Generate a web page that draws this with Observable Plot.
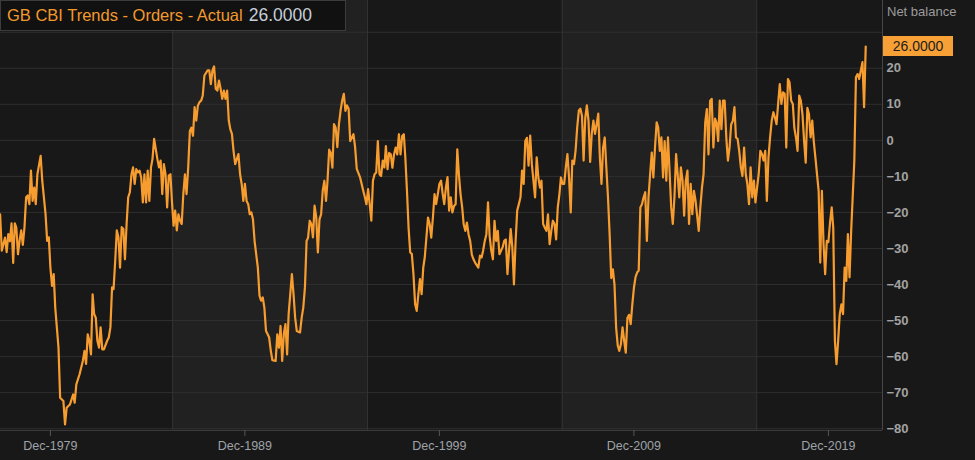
<!DOCTYPE html>
<html>
<head>
<meta charset="utf-8">
<script src="https://cdn.jsdelivr.net/npm/d3@7"></script>
<script src="https://cdn.jsdelivr.net/npm/@observablehq/plot@0.6"></script>
<style>
html, body { margin: 0; padding: 0; background: #181818; }
#wrap { position: relative; width: 975px; height: 460px; overflow: hidden; font-family: "Liberation Sans", Arial, sans-serif; }
#title { position: absolute; left: 0; top: 0; width: 346px; height: 31px; box-sizing: border-box; background: #111111; border: 1px solid #3c3c3c; padding-left: 6px; line-height: 29px; font-size: 16.5px; white-space: nowrap; }
#title .name { color: #f39a2c; }
#title .val { color: #c6ced8; margin-left: 6px; font-size: 17.5px; }
#unit { position: absolute; left: 887px; top: 4px; color: #9c9c9c; font-size: 13px; }
#badge { position: absolute; left: 883px; width: 70px; height: 20px; background: #f7a035; color: #1c1c1c; font-size: 14px; line-height: 20px; text-align: center; }
</style>
</head>
<body>
<div id="wrap"></div>
<script>
const months = [
"1977-05","1977-06","1977-08","1977-09","1977-10","1977-11","1977-12","1978-01","1978-02","1978-03","1978-04","1978-05","1978-06","1978-07","1978-08","1978-09","1978-10","1978-11","1978-12",
"1979-01","1979-02","1979-03","1979-04","1979-06","1979-07","1979-09","1979-10","1979-11","1979-12",
"1980-01","1980-02","1980-03","1980-05","1980-06","1980-08","1980-09","1980-10","1980-12",
"1981-02","1981-03","1981-04","1981-06","1981-08","1981-09","1981-10","1981-11","1981-12",
"1982-01","1982-02","1982-03","1982-04","1982-05","1982-06","1982-07","1982-08","1982-09","1982-11","1982-12",
"1983-01","1983-02","1983-03","1983-04","1983-05","1983-06","1983-07","1983-08","1983-09","1983-10","1983-11","1983-12",
"1984-01","1984-02","1984-03","1984-04","1984-05","1984-06","1984-07","1984-08","1984-09","1984-10","1984-11","1984-12",
"1985-01","1985-02","1985-03","1985-04","1985-06","1985-07","1985-08","1985-09","1985-10","1985-11","1985-12",
"1986-01","1986-02","1986-03","1986-04","1986-05","1986-06","1986-07","1986-08","1986-09","1986-10","1986-11","1986-12",
"1987-01","1987-02","1987-03","1987-04","1987-05","1987-06","1987-07","1987-08","1987-09","1987-10","1987-11",
"1988-01","1988-02","1988-03","1988-04","1988-05","1988-06","1988-07","1988-08","1988-09","1988-10","1988-11","1988-12",
"1989-01","1989-02","1989-03","1989-04","1989-05","1989-06","1989-07","1989-08","1989-09","1989-10","1989-11","1989-12",
"1990-01","1990-02","1990-03","1990-04","1990-05","1990-06","1990-08","1990-09","1990-10","1990-11","1990-12",
"1991-01","1991-02","1991-03","1991-04","1991-05","1991-07","1991-08","1991-09","1991-10","1991-11","1991-12",
"1992-01","1992-02","1992-03","1992-05","1992-06","1992-07","1992-08","1992-10","1992-11","1992-12",
"1993-01","1993-02","1993-03","1993-04","1993-05","1993-06","1993-07","1993-08","1993-09","1993-10","1993-11","1993-12",
"1994-01","1994-02","1994-03","1994-04","1994-05","1994-06","1994-07","1994-08","1994-09","1994-10","1994-11","1994-12",
"1995-01","1995-02","1995-03","1995-04","1995-05","1995-07","1995-08","1995-09","1995-11",
"1996-01","1996-02","1996-03","1996-04","1996-05","1996-06","1996-07","1996-08","1996-09","1996-10","1996-11","1996-12",
"1997-01","1997-02","1997-03","1997-04","1997-05","1997-06","1997-07","1997-08","1997-09","1997-10","1997-11","1997-12",
"1998-01","1998-02","1998-03","1998-04","1998-05","1998-06","1998-07","1998-08","1998-09","1998-10","1998-11","1998-12",
"1999-01","1999-02","1999-03","1999-04","1999-05","1999-06","1999-07","1999-08","1999-09","1999-10","1999-11","1999-12",
"2000-01","2000-02","2000-03","2000-04","2000-05","2000-06","2000-07","2000-08","2000-09","2000-10","2000-11","2000-12",
"2001-01","2001-02","2001-03","2001-04","2001-05","2001-06","2001-07","2001-08","2001-09","2001-10","2001-12",
"2002-01","2002-02","2002-03","2002-04","2002-05","2002-06","2002-07","2002-08","2002-09","2002-10","2002-11","2002-12",
"2003-01","2003-03","2003-04","2003-05","2003-06","2003-07","2003-08","2003-09","2003-10","2003-11","2003-12",
"2004-01","2004-02","2004-03","2004-04","2004-05","2004-06","2004-07","2004-08","2004-09","2004-10","2004-11","2004-12",
"2005-01","2005-02","2005-03","2005-04","2005-05","2005-06","2005-07","2005-08","2005-09","2005-10","2005-11","2005-12",
"2006-01","2006-02","2006-03","2006-04","2006-05","2006-06","2006-07","2006-08","2006-09","2006-10","2006-11","2006-12",
"2007-01","2007-02","2007-03","2007-04","2007-05","2007-06","2007-07","2007-08","2007-09","2007-10","2007-11","2007-12",
"2008-01","2008-02","2008-03","2008-04","2008-05","2008-06","2008-07","2008-08","2008-09","2008-10","2008-11","2008-12",
"2009-01","2009-02","2009-03","2009-04","2009-05","2009-06","2009-07","2009-08","2009-09","2009-10","2009-11","2009-12",
"2010-01","2010-02","2010-03","2010-04","2010-05","2010-06","2010-07","2010-08","2010-09","2010-10","2010-11","2010-12",
"2011-01","2011-02","2011-03","2011-04","2011-05","2011-06","2011-07","2011-08","2011-09","2011-10","2011-11","2011-12",
"2012-01","2012-02","2012-03","2012-04","2012-05","2012-06","2012-07","2012-08","2012-09","2012-10","2012-11","2012-12",
"2013-01","2013-02","2013-04","2013-05","2013-06","2013-07","2013-08","2013-09","2013-10","2013-11","2013-12",
"2014-01","2014-02","2014-03","2014-04","2014-05","2014-06","2014-07","2014-08","2014-09","2014-10","2014-11","2014-12",
"2015-01","2015-02","2015-03","2015-04","2015-05","2015-06","2015-07","2015-08","2015-09","2015-10","2015-11","2015-12",
"2016-01","2016-02","2016-03","2016-04","2016-05","2016-06","2016-07","2016-08","2016-09","2016-10","2016-11","2016-12",
"2017-01","2017-02","2017-03","2017-04","2017-05","2017-06","2017-07","2017-08","2017-09","2017-10","2017-11","2017-12",
"2018-01","2018-02","2018-03","2018-04","2018-05","2018-06","2018-07","2018-08","2018-09","2018-10","2018-11","2018-12",
"2019-01","2019-02","2019-03","2019-04","2019-05","2019-06","2019-07","2019-08","2019-09","2019-10","2019-11","2019-12",
"2020-01","2020-02","2020-03","2020-04","2020-05","2020-06","2020-07","2020-08","2020-09","2020-10","2020-11","2020-12",
"2021-01","2021-02","2021-03","2021-04","2021-05","2021-06","2021-07","2021-08","2021-09","2021-10","2021-11"
];
const balance = [
-20.5,-30.6,-27,-31,-26,-28,-23,-34,-23,-24.2,-31.6,-27.9,-25,-29,-24.2,-15.8,-15.3,-17.7,-8.4,
-16.8,-13.1,-17.7,-9.4,-4.3,-11.2,-20.5,-27.9,-26.9,-35.3,
-40.4,-37.1,-46.4,-57.5,-71.4,-72.3,-78.8,-74.2,-73.3,
-70.5,-72.8,-67.7,-64.9,-61.2,-58.4,-62,-53.8,-55.6,
-59.4,-42.7,-48.2,-49.2,-55.6,-57.5,-51.9,-58,-58,-55.6,-54.7,
-51.9,-40.8,-41.3,-33.4,-25,-26.9,-35.3,-24.1,-24.6,-33,-23.2,-15.8,
-14.4,-9.4,-7.5,-12.1,-8,-8.9,-8.4,-10.3,-17.2,-9.4,-17.2,-8.4,
-16.8,-7.5,-5.2,0.4,-5.2,-7.5,-5.6,-14.9,-6.6,-9.4,-18.6,
-9.8,-9.4,-16.8,-23.7,-19.5,-25,-20.5,-22.3,-23.2,-14.9,-9.4,-14.9,
-7.5,2.6,3.5,1.3,9.2,5.5,9.6,10.6,11,12.4,18,
19.4,19.4,15.6,19.4,20.5,14.3,13.8,16.6,14.3,11.5,13.8,11.5,
13.8,5.5,3.1,1.8,-2.9,-6.6,-5.2,-3.8,-9.4,-12.1,-16.8,-12.1,
-16.8,-17.7,-20.5,-20,-21.9,-28,-35.4,-43.1,-44.5,-43.6,-46.4,
-52.9,-53.8,-54.7,-58.4,-61,-61.2,-53.8,-57.5,-51.5,-61.2,-53.8,
-51,-59.4,-48.2,-37.1,-42.7,-49.2,-52.9,-53.3,-49.2,-46.4,
-40.8,-27.9,-27,-22.3,-23.2,-26.9,-18.1,-21.3,-31.1,-21.9,-20.5,-14,
-11.2,-16.8,-11.2,-2.6,-3.5,-7.6,4.5,3.5,-1.9,4.4,8.2,11,
12.9,8.2,9.7,8.8,-0.2,1.7,-1.9,-7.9,-10.2,
-14,-15.8,-17.7,-13.5,-17.7,-22.3,-11.2,-9.4,-8.9,-0.2,-9.4,-9.9,
-5.6,-7.5,-1.6,-8,-3.5,-3.9,-7.6,-3.9,-2,-3.9,1.7,-3.9,
1.2,1.7,-4.7,-14,-24.2,-31.1,-31.5,-37.1,-45.5,-47.3,-42.7,-38.5,
-42.7,-35.3,-32.5,-27,-21.4,-23.2,-27,-21.4,-14.9,-17.7,-14.9,-12.1,
-11.2,-14.9,-17.7,-13.1,-10.2,-19.5,-15.8,-20,-18.2,-17.7,-2.5,-9.4,
-14.9,-18.6,-23.3,-25.1,-22.8,-26.1,-27.9,-31.7,-33,-33.9,-35.3,
-32,-32.5,-30.6,-27.9,-26.1,-17.2,-26.5,-30.6,-33,-22.3,-27.9,-25.1,
-31.6,-29.7,-27.9,-27.5,-37.1,-30.6,-24.6,-29.7,-40,-28,-19.5,
-17.7,-15.8,-8.4,-12.1,-0.2,0.7,-7,1.3,-6.6,-11.2,-15.8,-4.7,
-10.3,-13.1,-11.2,-23.2,-24.2,-25.1,-20.5,-28.8,-25.1,-22.3,-23.2,-27.5,
-18.6,-14.9,-10.3,-12.1,-12.1,-7.5,-3.8,-10.3,-20,-5.6,-6.6,-2.9,
3.6,8.3,8.8,6.8,-5.6,6.2,9.7,5.5,-6,1.8,5.5,1.8,
4.5,7.4,-4.7,-12.1,-2,0.8,-7.5,-15.8,-26.1,-38.2,-35.8,-40,
-52,-57,-58.4,-56.5,-51.9,-55.6,-58.9,-49.3,-48.4,-51,-45.5,-40.9,
-37.9,-36.6,-36.1,-18.6,-17.7,-15.8,-14.4,-27.9,-15.8,-9.4,-3.4,-10.3,
-1.9,5.0,3.6,-2.9,0.8,-10.3,-0.2,-11.2,0.8,-8.5,-18.6,-23.2,
-15.8,-3.8,-9.4,-15.8,-7.5,-11.2,-20.9,-11.2,-8.4,-23.2,-12.1,-20.5,
-14,-16.8,-25.1,-18.6,-13.1,-9.4,5.0,8.7,-3.9,11,11.5,
-2,6,5,-0.2,11,3.1,11,11,0.7,-5.6,-2,4.4,
5.4,9.2,0.8,0.4,-2.9,-7.5,-9.9,-2,-9.4,-12.1,-17.7,-7.5,
-15.8,-11.2,-17.2,-13.1,-9.4,-2.9,-3.8,-5.6,-2.9,-16.8,-4.7,0.8,
5.5,7.8,6.4,4.5,10.1,15.6,10.1,13.3,12.9,-2,17,16.1,
11,10.1,3.5,0.8,-2.9,12.4,11,7.3,-0.2,-6.2,9,7.3,
0.8,5.5,-0.2,-4.8,-9.4,-14,-33.9,-14,-28.8,-37.1,-27.9,-28.2,
-22.8,-18.6,-24.2,-55.6,-62.1,-55.6,-48.2,-45.5,-48.2,-35.3,-39,-26,
-38,-25,-15.8,-5.6,17.5,18.4,17,19.4,21.7,9.2,26
];
const bandStarts = ["1986-03-15", "2006-03-25"];
const bandEnds = ["1996-03-20", "2016-03-25"];
const bandEdges = ["1986-03-15", "1996-03-20", "2006-03-25", "2016-03-25"];
const xTickLabels = ["1979-12", "1989-12", "1999-12", "2009-12", "2019-12"];
const yTicks = [-80, -70, -60, -50, -40, -30, -20, -10, 0, 10, 20];
const gridValues = [-80, -70, -60, -50, -40, -30, -20, -10, 0, 10, 20, 30];
const seriesName = "GB CBI Trends - Orders - Actual";
const unitLabel = "Net balance";

const pm = d3.utcParse("%Y-%m");
const pd = d3.utcParse("%Y-%m-%d");
const data = months.map((m, i) => ({date: pm(m), value: balance[i]}));
const bands = bandStarts.map((s, i) => ({start: pd(s), end: pd(bandEnds[i])}));
const edges = bandEdges.map(pd);
const xTicks = xTickLabels.map(pm);
const last = data[data.length - 1];
const xDomain = [pd("1977-05-08"), pd("2022-09-12")];
const yDomain = [-80.5, 38.8];

const chart = Plot.plot({
  width: 975,
  height: 460,
  marginLeft: 0,
  marginRight: 93,
  marginTop: 0,
  marginBottom: 30,
  style: {background: "#181818", color: "#a0a0a0", fontFamily: "'Liberation Sans', Arial, sans-serif", fontSize: "13px"},
  x: {type: "utc", domain: xDomain},
  y: {domain: yDomain},
  marks: [
    Plot.rect(bands, {x1: "start", x2: "end", fill: "#212121"}),
    Plot.ruleY(gridValues, {stroke: "#2f2f2f", strokeWidth: 1}),
    Plot.ruleX(edges, {stroke: "#343434", strokeWidth: 1}),
    Plot.ruleY([yDomain[0]], {stroke: "#3a3a3a", strokeWidth: 1}),
    Plot.ruleX([xDomain[1]], {stroke: "#474747", strokeWidth: 1}),
    Plot.line(data, {x: "date", y: "value", stroke: "#f79d30", strokeWidth: 2.2, strokeLinejoin: "round", clip: true}),
    Plot.axisX({ticks: xTicks, tickFormat: d3.utcFormat("%b-%Y"), tickSize: 6, tickPadding: 5, stroke: "#555", fill: "#9fa3a8", label: null, fontSize: 12.5}),
    Plot.axisY({anchor: "right", ticks: yTicks, tickSize: 0, tickPadding: 4, label: null, fill: "#a3a3a3", fontWeight: "bold", fontSize: 13})
  ]
});

const wrap = document.getElementById("wrap");
wrap.appendChild(chart);

const title = document.createElement("div");
title.id = "title";
title.innerHTML = `<span class="name">${seriesName}</span><span class="val">${last.value.toFixed(4)}</span>`;
wrap.appendChild(title);

const unit = document.createElement("div");
unit.id = "unit";
unit.textContent = unitLabel;
wrap.appendChild(unit);

const badge = document.createElement("div");
badge.id = "badge";
badge.textContent = last.value.toFixed(4);
badge.style.top = (chart.scale("y").apply(last.value) - 10) + "px";
wrap.appendChild(badge);
</script>
</body>
</html>
